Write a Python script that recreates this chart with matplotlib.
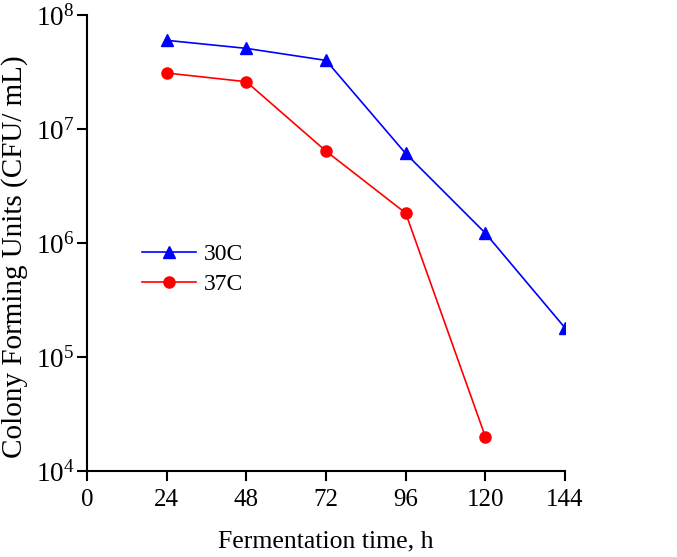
import matplotlib
matplotlib.use('Agg')
import matplotlib.pyplot as plt

hours_30 = [24, 48, 72, 96, 120, 144]
cfu_30 = [6.0e7, 5.1e7, 4.0e7, 6.1e6, 1.22e6, 1.8e5]
hours_37 = [24, 48, 72, 96, 120]
cfu_37 = [3.1e7, 2.6e7, 6.4e6, 1.83e6, 2.0e4]
xticks = [0, 24, 48, 72, 96, 120, 144]

plt.rcParams['font.family'] = ['Liberation Serif', 'DejaVu Serif']
plt.rcParams['mathtext.fontset'] = 'custom'
plt.rcParams['mathtext.rm'] = 'Liberation Serif'
plt.rcParams['mathtext.it'] = 'Liberation Serif:italic'
plt.rcParams['mathtext.bf'] = 'Liberation Serif:bold'

fig = plt.figure(figsize=(6.77, 5.57), dpi=100)
ax = fig.add_axes([0.1285, 0.1544, 0.7061, 0.8186])

ax.plot(hours_30, cfu_30, color='blue', marker='^', markersize=9, linewidth=1.2, label='30C')
ax.plot(hours_37, cfu_37, color='red', marker='o', markersize=8, linewidth=1.2, label='37C')

ax.set_yscale('log')
ax.set_ylim(1e4, 1e8)
ax.set_xlim(0, 144)
ax.set_xticks(xticks)
ax.set_yticks([1e4, 1e5, 1e6, 1e7, 1e8])
ax.yaxis.set_minor_locator(matplotlib.ticker.NullLocator())

ax.spines['top'].set_visible(False)
ax.spines['right'].set_visible(False)
for s in ['left', 'bottom']:
    ax.spines[s].set_linewidth(1.5)
ax.tick_params(direction='out', length=7, width=1.5, labelsize=18)
ax.tick_params(axis='y', pad=2, labelsize=19.5)
ax.tick_params(axis='x', pad=6)
ax.set_xlabel('Fermentation time, h', fontsize=18.5, labelpad=14)
ax.set_ylabel('Colony Forming Units (CFU/ mL)', fontsize=21)
ax.yaxis.set_label_coords(-0.123, 0.47)

ax.legend(loc='upper left', bbox_to_anchor=(0.07, 0.545), frameon=False, fontsize=17,
          handlelength=2.3, handletextpad=0.35, labelspacing=0.35)

fig.savefig('out.png', dpi=100)
